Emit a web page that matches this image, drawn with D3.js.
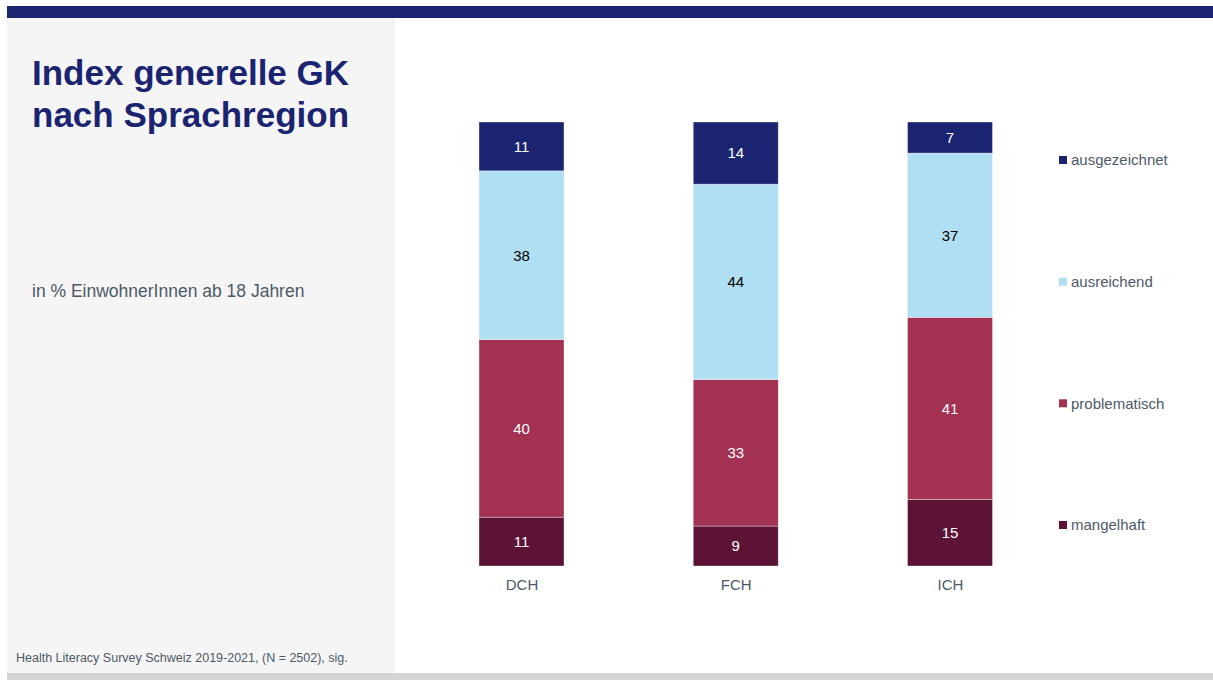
<!DOCTYPE html>
<html><head><meta charset="utf-8">
<script src="https://cdn.jsdelivr.net/npm/d3@7"></script>
<style>html,body{margin:0;padding:0;background:#fff;}svg{display:block;}</style>
</head><body>
<svg id="chart" width="1213" height="680"></svg>
<script>
const categories = ["DCH", "FCH", "ICH"];
const seriesNames = ["mangelhaft", "problematisch", "ausreichend", "ausgezeichnet"];
const mangelhaft = [11, 9, 15];
const problematisch = [40, 33, 41];
const ausreichend = [38, 44, 37];
const ausgezeichnet = [11, 14, 7];
const seriesColors = ["#5c1335", "#a33152", "#b0def3", "#1b2470"];
const labelColors = ["#ffffff", "#ffffff", "#000000", "#ffffff"];
const legendOrder = ["ausgezeichnet", "ausreichend", "problematisch", "mangelhaft"];
const titleLines = ["Index generelle GK", "nach Sprachregion"];
const subtitle = "in % EinwohnerInnen ab 18 Jahren";
const footnote = "Health Literacy Survey Schweiz 2019-2021, (N = 2502), sig.";

const svg = d3.select("#chart");
const font = "'Liberation Sans', Arial, Helvetica, sans-serif";
const textGray = "#4c5a68";

// background decorations
svg.append("rect").attr("x", 7).attr("y", 18).attr("width", 388).attr("height", 655).attr("fill", "#f5f5f5");
svg.append("rect").attr("x", 7).attr("y", 6).attr("width", 1206).attr("height", 12).attr("fill", "#1b2470");
svg.append("rect").attr("x", 7).attr("y", 673).attr("width", 1206).attr("height", 7).attr("fill", "#d4d4d4");

// title
svg.append("text").attr("x", 32).attr("font-family", font).attr("font-weight", "bold")
  .attr("font-size", 35).attr("fill", "#1b2470")
  .selectAll("tspan").data(titleLines).join("tspan")
  .attr("x", 32).attr("y", (d, i) => 85 + i * 42).text(d => d);

svg.append("text").attr("x", 32).attr("y", 297).attr("font-family", font)
  .attr("font-size", 17.5).attr("fill", textGray).text(subtitle);

svg.append("text").attr("x", 16).attr("y", 662).attr("font-family", font)
  .attr("font-size", 12.5).attr("fill", textGray).text(footnote);

// data table
const table = categories.map((c, i) => ({
  cat: c,
  mangelhaft: mangelhaft[i],
  problematisch: problematisch[i],
  ausreichend: ausreichend[i],
  ausgezeichnet: ausgezeichnet[i]
}));
const stacked = d3.stack().keys(seriesNames)(table);

const x = d3.scalePoint().domain(categories).range([521.5, 950]);
const barW = 85;
const y = d3.scaleLinear().domain([0, 100]).range([566, 122]);

const g = svg.append("g");
stacked.forEach((layer, si) => {
  const lg = g.append("g");
  lg.selectAll("rect").data(layer).join("rect")
    .attr("x", d => x(d.data.cat) - barW / 2)
    .attr("y", d => y(d[1]))
    .attr("width", barW)
    .attr("height", d => y(d[0]) - y(d[1]))
    .attr("fill", seriesColors[si])
    .attr("stroke", "rgba(255,255,255,0.45)")
    .attr("stroke-width", 0.8);
  lg.selectAll("text").data(layer).join("text")
    .attr("x", d => x(d.data.cat))
    .attr("y", d => (y(d[0]) + y(d[1])) / 2)
    .attr("dy", "0.36em")
    .attr("text-anchor", "middle")
    .attr("font-family", font).attr("font-size", 15)
    .attr("fill", labelColors[si])
    .text(d => d[1] - d[0]);
});

// category axis
const xAxis = d3.axisBottom(x).tickSize(0).tickPadding(0);
const ax = svg.append("g").attr("transform", "translate(0,579)").call(xAxis);
ax.select(".domain").remove();
ax.selectAll("text").attr("font-family", font).attr("font-size", 15).attr("fill", textGray).attr("dy", "0.71em");

// legend
const ly = d3.scalePoint().domain(legendOrder).range([160, 525]);
const leg = svg.append("g").selectAll("g").data(legendOrder).join("g")
  .attr("transform", d => `translate(1059,${ly(d)})`);
leg.append("rect").attr("x", 0).attr("y", -4).attr("width", 8).attr("height", 8)
  .attr("fill", d => seriesColors[seriesNames.indexOf(d)]);
leg.append("text").attr("x", 12).attr("dy", "0.36em").attr("font-family", font)
  .attr("font-size", 15).attr("fill", textGray).text(d => d);
</script>
</body></html>
